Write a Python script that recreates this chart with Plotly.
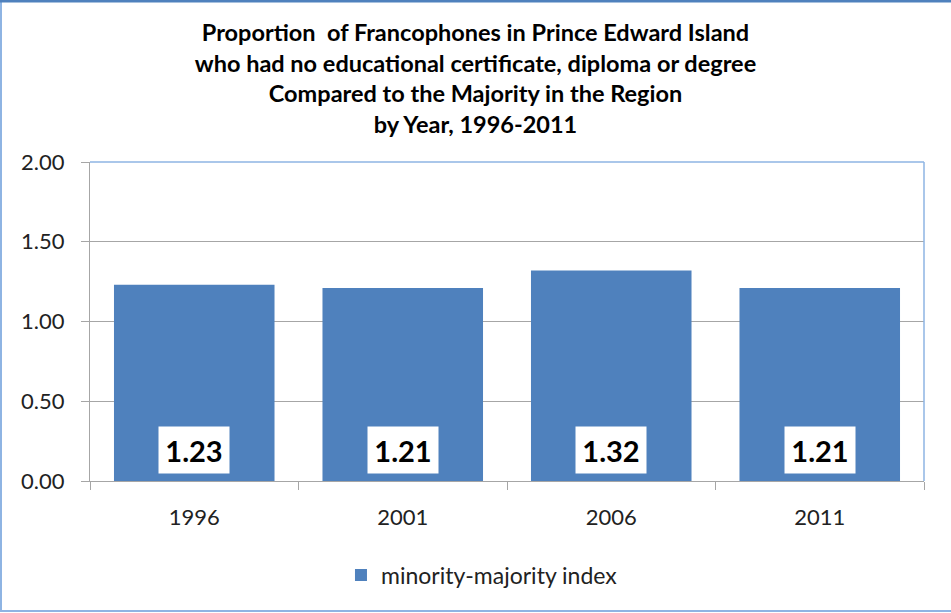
import plotly.graph_objects as go

years = ["1996", "2001", "2006", "2011"]
index_values = [1.23, 1.21, 1.32, 1.21]
value_labels = ["1.23", "1.21", "1.32", "1.21"]
y_ticks = [0, 0.5, 1.0, 1.5, 2.0]
y_tick_labels = ["0.00", "0.50", "1.00", "1.50", "2.00"]

W, H = 951, 613
L, R, T, B = 90, 27, 162, 132
pw, ph = W - L - R, H - T - B

def px_x(x):
    return (x - L) / pw

def px_y(y):
    return (H - B - y) / ph

FONT = "Lato, Carlito, Calibri, sans-serif"
BLUE = "#4F81BD"

fig = go.Figure()
fig.add_trace(go.Bar(
    x=years, y=index_values, name="minority-majority index",
    marker=dict(color=BLUE, line=dict(width=0)),
    hoverinfo="x+y",
))

for i, lab in enumerate(value_labels):
    fig.add_annotation(
        x=i, y=0.195, xref="x", yref="y", text="<b>" + lab + "</b>",
        showarrow=False, bgcolor="white", font=dict(family=FONT, size=29, color="black"),
        borderpad=6, width=58, height=34, yanchor="middle", xanchor="center",
    )

title_lines = [
    "Proportion  of Francophones in Prince Edward Island",
    "who had no educational certificate, diploma or degree",
    "Compared to the Majority in the Region",
    "by Year, 1996-2011",
]
fig.update_layout(
    width=W, height=H,
    margin=dict(l=L, r=R, t=T, b=B, autoexpand=False),
    paper_bgcolor="white", plot_bgcolor="white",
    title=dict(
        text="<b>" + "<br>".join(title_lines) + "</b>",
        x=0.5, xanchor="center", y=1 - 41 / H, yanchor="top",
        font=dict(family=FONT, size=23.5, color="black"),
    ),
    bargap=0.23,
    showlegend=True,
    legend=dict(
        orientation="h", x=0.47, xanchor="center", y=px_y(575), yanchor="middle",
        font=dict(family=FONT, size=23, color="#222"),
    ),
    font=dict(family=FONT),
    xaxis=dict(type="category", categoryorder="array", categoryarray=years,
               range=[-0.5, len(years) - 0.5], autorange=False),
)
fig.update_yaxes(
    range=[0, 2], tickvals=y_ticks, ticktext=y_tick_labels,
    showgrid=True, gridcolor="#A6A6A6", gridwidth=1,
    showline=True, linecolor="#A6A6A6", linewidth=1,
    ticks="outside", ticklen=8, tickcolor="#A6A6A6", ticklabelstandoff=12,
    tickfont=dict(family=FONT, size=22, color="#222"),
    zeroline=False, fixedrange=True, automargin=False,
)
fig.update_xaxes(
    showline=True, linecolor="#A6A6A6", linewidth=1,
    ticks="outside", ticklen=8, tickcolor="#A6A6A6", tickson="boundaries",
    ticklabelstandoff=17,
    tickfont=dict(family=FONT, size=22, color="#222"),
    showgrid=False, automargin=False, fixedrange=True,
)
# plot area border (top and right light blue)
fig.add_shape(type="line", xref="paper", yref="paper", x0=0, x1=1, y0=1, y1=1,
              line=dict(color="#8EB4E3", width=1.5))
fig.add_shape(type="line", xref="paper", yref="paper", x0=1, x1=1, y0=0, y1=1,
              line=dict(color="#8EB4E3", width=1.5))
# outer chart border
fig.add_shape(type="rect", xref="paper", yref="paper",
              x0=px_x(1), x1=px_x(W + 5), y0=px_y(611), y1=px_y(1),
              line=dict(color="#8EB4E3", width=2), layer="above")
fig.add_shape(type="line", xref="paper", yref="paper",
              x0=px_x(0), x1=px_x(W), y0=px_y(1), y1=px_y(1),
              line=dict(color="#4F81BD", width=3), layer="above")

fig.write_html("out.html", config={"displayModeBar": False},
               post_script="document.body.style.margin='0';")
